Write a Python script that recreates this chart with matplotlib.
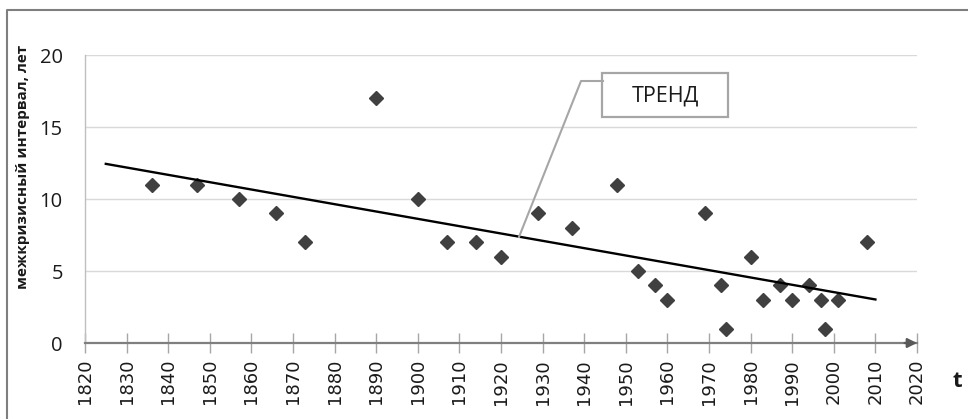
import numpy as np
import matplotlib
matplotlib.use("Agg")
import matplotlib.pyplot as plt
from matplotlib.lines import Line2D
from matplotlib.patches import Rectangle

# ---- data ----
years = [1836, 1847, 1857, 1866, 1873, 1890, 1900, 1907, 1914, 1920, 1929, 1937,
         1948, 1953, 1957, 1960, 1969, 1973, 1974, 1980, 1983, 1987, 1990, 1994,
         1997, 1998, 2001, 2008]
intervals = [11, 11, 10, 9, 7, 17, 10, 7, 7, 6, 9, 8,
             11, 5, 4, 3, 9, 4, 1, 6, 3, 4, 3, 4,
             3, 1, 3, 7]
trend_range = [1825, 2010]
x_ticks = list(range(1820, 2021, 10))
y_ticks = [0, 5, 10, 15, 20]
ylabel = "межкризисный интервал, лет"
xlabel = "t"
callout = "ТРЕНД"

W, H = 968, 419
fig = plt.figure(figsize=(W / 100, H / 100), dpi=100)

def fx(x):
    return x / W

def fy(y):
    return 1 - y / H

ax = fig.add_axes([fx(85), fy(343), (917 - 85) / W, (343 - 55) / H])
ax.set_xlim(1820, 2020)
ax.set_ylim(0, 20)

# gridlines
ax.set_yticks(y_ticks)
ax.yaxis.grid(True, color="#d9d9d9", lw=1.0)
ax.set_axisbelow(True)

# spines
for s in ["top", "right"]:
    ax.spines[s].set_visible(False)
ax.spines["left"].set_color("#bfbfbf")
ax.spines["left"].set_linewidth(1.0)
ax.spines["bottom"].set_color("#7f7f7f")
ax.spines["bottom"].set_linewidth(1.6)

# arrow at the end of the x axis
ax.annotate("", xy=(1, 0), xytext=(0.985, 0), xycoords="axes fraction",
            textcoords="axes fraction",
            arrowprops=dict(arrowstyle="-|>", color="#595959", lw=1.6,
                            mutation_scale=14, shrinkA=0, shrinkB=0),
            annotation_clip=False)

ax.set_xticks(x_ticks)
ax.set_xticklabels([str(v) for v in x_ticks], rotation=90,
                   fontfamily="DejaVu Sans", fontsize=13, color="#1a1a1a")
ax.tick_params(axis="x", direction="inout", length=15, width=1.0,
               color="#a6a6a6", pad=4)
ax.set_yticklabels([str(v) for v in y_ticks], fontfamily="Open Sans",
                   fontsize=14.5, color="#1a1a1a")
ax.tick_params(axis="y", length=0, pad=16)

# data points
ax.plot(years, intervals, linestyle="none", marker="D", markersize=7.5,
        color="#404040", zorder=3, clip_on=False)

# linear trend
coef = np.polyfit(years, intervals, 1)
tx = np.array(trend_range, dtype=float)
ax.plot(tx, np.polyval(coef, tx), color="black", lw=1.7, zorder=4)

# callout leader and box (figure pixel positions)
fig.add_artist(Line2D([fx(603), fx(581), fx(519)], [fy(81), fy(81), fy(237)],
                      color="#a6a6a6", lw=1.5))
fig.add_artist(Rectangle((fx(602), fy(117)), (728 - 602) / W, (117 - 73) / H,
                         transform=fig.transFigure, facecolor="white",
                         edgecolor="#a6a6a6", lw=1.6))
fig.text(fx(665), fy(96), callout, ha="center", va="center",
         fontfamily="Open Sans", fontsize=15.5, color="#1a1a1a")

# axis titles
fig.text(fx(23), fy(167), ylabel, rotation=90, ha="center", va="center",
         fontfamily="Open Sans", fontweight="bold", fontsize=11, color="#1a1a1a")
fig.text(fx(957), fy(381), xlabel, ha="center", va="center",
         fontfamily="Open Sans", fontweight="bold", fontsize=16, color="#1a1a1a")

# outer frame (top and left edges visible)
fig.add_artist(Line2D([fx(7), fx(7), fx(968)], [fy(419), fy(10), fy(10)],
                      color="#7f7f7f", lw=1.5))

fig.savefig("out.png", dpi=100)
